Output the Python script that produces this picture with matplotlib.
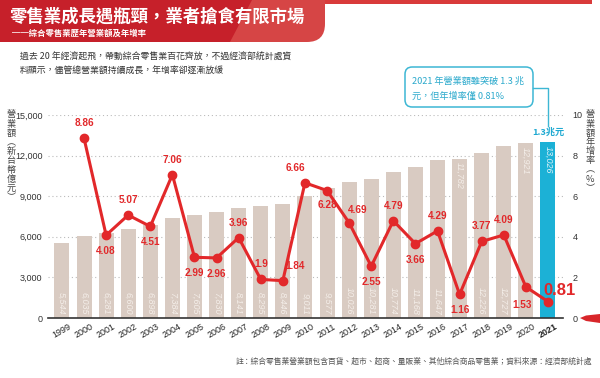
import matplotlib
matplotlib.use("Agg")
import matplotlib.pyplot as plt
from matplotlib.patches import FancyBboxPatch, Polygon, Rectangle
import numpy as np

plt.rcParams['font.family'] = ['Noto Sans CJK TC', 'DejaVu Sans']

years = ['1999', '2000', '2001', '2002', '2003', '2004', '2005', '2006', '2007', '2008',
         '2009', '2010', '2011', '2012', '2013', '2014', '2015', '2016', '2017', '2018',
         '2019', '2020', '2021']
revenue = [5544, 6035, 6281, 6600, 6898, 7384, 7605, 7830, 8141, 8295,
           8446, 9011, 9577, 10026, 10281, 10774, 11168, 11647, 11782, 12226,
           12727, 12921, 13026]
growth_years = years[1:]
growth = [8.86, 4.08, 5.07, 4.51, 7.06, 2.99, 2.96, 3.96, 1.9, 1.84,
          6.66, 6.28, 4.69, 2.55, 4.79, 3.66, 4.29, 1.16, 3.77, 4.09, 1.53, 0.81]
left_ticks = [0, 3000, 6000, 9000, 12000, 15000]
right_ticks = [0, 2, 4, 6, 8, 10]

title = '零售業成長遇瓶頸，業者搶食有限市場'
subtitle = '──綜合零售業歷年營業額及年增率'
intro = ['過去 20 年經濟起飛，帶動綜合零售業百花齊放，不過經濟部統計處資',
         '料顯示，儘管總營業額持續成長，年增率卻逐漸放緩']
callout = ['2021 年營業額雖突破 1.3 兆', '元，但年增率僅 0.81%']
callout_tag = '1.3兆元'
left_label = ['營', '業', '額', '︵', '新', '台', '幣', '億', '元', '︶']
right_label = ['營', '業', '額', '年', '增', '率', '︵', '%', '︶']
note = '註：綜合零售業營業額包含百貨、超市、超商、量販業、其他綜合商品零售業；資料來源：經濟部統計處'

# label offsets in pixels (dx, dy) for growth labels
lab_off = [(0, 10), (0, -11), (0, 10), (0, -11), (0, 10), (0, -11), (0, -11), (0, 10),
           (0, 10), (12, 10), (-10, 10), (0, -9), (8, 8), (0, -11), (0, 10), (0, -11),
           (0, 10), (0, -11), (0, 10), (0, 10), (-4, -13), (0, 0)]

W, H = 600, 378
fig = plt.figure(figsize=(6, 3.78), dpi=100)
fig.patch.set_facecolor('white')

def fx(x):
    return x / W

def fy(y):
    return 1 - y / H

# header
top_strip = Rectangle((0, fy(4)), fx(592), 4 / H, transform=fig.transFigure,
                      facecolor='#d93a3a', edgecolor='none', zorder=0)
fig.add_artist(top_strip)
band = FancyBboxPatch((fx(-20), fy(42)), fx(345), 42 / H + 0.05,
                      boxstyle='round,pad=0,rounding_size=0.03', transform=fig.transFigure,
                      facecolor='#d64545', edgecolor='none', zorder=1, mutation_aspect=1.6)
fig.add_artist(band)
dark = Polygon([(0, fy(0)), (fx(252), fy(0)), (fx(230), fy(42)), (0, fy(42))],
               closed=True, transform=fig.transFigure, facecolor='#c6202a',
               edgecolor='none', zorder=2)
fig.add_artist(dark)
fig.text(fx(10), fy(17), title, color='white', fontsize=12.5, fontweight='bold',
         va='center', ha='left', zorder=5)
fig.text(fx(12), fy(33), subtitle, color='white', fontsize=6, fontweight='bold',
         va='center', ha='left', zorder=5)
fig.text(fx(20), fy(57), intro[0], color='#333333', fontsize=6.4, va='center', ha='left')
fig.text(fx(20), fy(71), intro[1], color='#333333', fontsize=6.4, va='center', ha='left')

# axes
ax = fig.add_axes([fx(48), fy(318), fx(563) - fx(48), (318 - 115) / H])
ax2 = ax.twinx()
x = np.arange(len(years))
bar_colors = ['#d9cbc2'] * (len(years) - 1) + ['#1cb1d6']
ax.bar(x, revenue, width=0.68, color=bar_colors, zorder=2)
ax.set_xlim(-0.63, len(years) - 1 + 0.68)
ax.set_ylim(0, 15000)
ax.set_yticks(left_ticks)
ax.set_yticklabels([f'{v:,}' for v in left_ticks], fontsize=6.5, color='#333333',
                   family=['Liberation Sans', 'DejaVu Sans'])
ax.set_xticks(x)
ax.set_xticklabels(years, rotation=30, fontsize=6.5, color='#222222',
                   family=['Liberation Sans', 'DejaVu Sans'], ha='center')
for lbl in ax.get_xticklabels():
    if lbl.get_text() == '2021':
        lbl.set_fontweight('bold')
ax.tick_params(axis='both', length=0, pad=4)
ax.tick_params(axis='x', pad=3)
for s in ['top', 'right', 'left']:
    ax.spines[s].set_visible(False)
ax.spines['bottom'].set_color('#333333')
ax.spines['bottom'].set_linewidth(1.2)
ax.set_facecolor('none')
for t in left_ticks[1:]:
    ax.axhline(t, color='#bbbbbb', linestyle=(0, (1, 2.5)), linewidth=0.8, zorder=1)

# bar value labels
for i, v in enumerate(revenue):
    top = growth[i - 1] < 1.6 if i > 0 else False
    col = '#f4eee9' if i < len(years) - 1 else '#dff3f9'
    if top:
        ax.text(i, v - 280, f'{v:,}', rotation=-90, ha='center', va='top', fontsize=6.5,
                color=col, style='italic', family=['Liberation Sans', 'DejaVu Sans'], zorder=3)
    else:
        ax.text(i, 230, f'{v:,}', rotation=-90, ha='center', va='bottom', fontsize=6.5,
                color=col, style='italic', family=['Liberation Sans', 'DejaVu Sans'], zorder=3)

# growth line
gx = x[1:]
ax2.plot(gx, growth, color='#e2282a', linewidth=2.2, marker='o', markersize=6, zorder=5)
ax2.set_ylim(0, 10)
ax2.set_yticks(right_ticks)
ax2.set_yticklabels([str(v) for v in right_ticks], fontsize=6.5, color='#333333',
                    family=['Liberation Sans', 'DejaVu Sans'])
ax2.tick_params(axis='y', length=0, pad=7)
for s in ['top', 'right', 'left', 'bottom']:
    ax2.spines[s].set_visible(False)
for i, (g, off) in enumerate(zip(growth, lab_off)):
    if i == len(growth) - 1:
        ax2.annotate(f'{g:g}', (gx[i], g), xytext=(12, 11), textcoords='offset pixels',
                     ha='center', va='center', fontsize=12, fontweight='bold',
                     color='#e2282a', family=['Liberation Sans', 'DejaVu Sans'], zorder=6)
        continue
    ax2.annotate(f'{g:g}', (gx[i], g), xytext=off, textcoords='offset pixels',
                 ha='center', va='bottom' if off[1] > 0 else 'top', fontsize=7.2,
                 fontweight='bold', color='#e2282a',
                 family=['Liberation Sans', 'DejaVu Sans'], zorder=6)

# axis titles (vertical stacked, one character per row)
for k, ch in enumerate(left_label):
    fig.text(fx(11), fy(115 + 9.2 * k), ch, fontsize=6.6, color='#444444',
             ha='center', va='center')
for k, ch in enumerate(right_label):
    fig.text(fx(590), fy(115 + 9.2 * k), ch, fontsize=6.6, color='#444444',
             ha='center', va='center')

# callout
box = FancyBboxPatch((fx(405), fy(107)), fx(533) - fx(405), (107 - 67) / H,
                     boxstyle='round,pad=0,rounding_size=0.012', transform=fig.transFigure,
                     facecolor='white', edgecolor='#3db7d4', linewidth=1.1, zorder=8,
                     mutation_aspect=1.6)
fig.add_artist(box)
fig.text(fx(412), fy(81), callout[0], fontsize=6.6, color='#2aa9cc', ha='left', va='center', zorder=9)
fig.text(fx(412), fy(96), callout[1], fontsize=6.6, color='#2aa9cc', ha='left', va='center', zorder=9)
fig.add_artist(plt.Line2D([fx(533), fx(548), fx(548)], [fy(88), fy(88), fy(126)],
                          transform=fig.transFigure, color='#3db7d4', linewidth=1.0, zorder=8))
ax.text(len(years) - 1, revenue[-1] + 400, callout_tag, ha='center', va='bottom',
        fontsize=6.6, fontweight='bold', color='#1ea9d1', zorder=6)

# footnote
fig.text(fx(592), fy(362), note, fontsize=5.6, color='#555555', ha='right', va='center')

# pen decoration
pen = Polygon([(fx(580), fy(318)), (fx(586), fy(315.5)), (fx(600), fy(314)),
               (fx(600), fy(323)), (fx(586), fy(321))], closed=True,
              transform=fig.transFigure, facecolor='#d8262a', edgecolor='none')
fig.add_artist(pen)

fig.savefig('out.png', dpi=100)
